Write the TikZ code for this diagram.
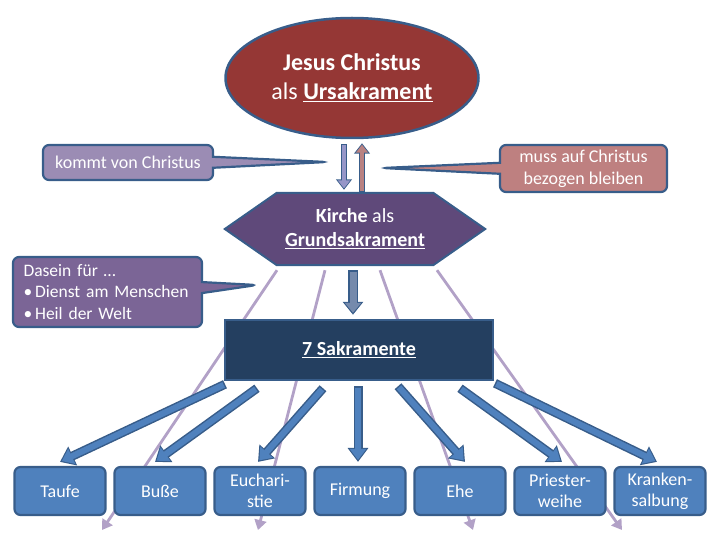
\documentclass[tikz,border=0pt]{standalone}
\usepackage{fontspec}
\setmainfont{Carlito}
\usepackage{tikz}
\usetikzlibrary{shapes.geometric, shapes.callouts, arrows.meta, positioning, calc, backgrounds}

\definecolor{christred}{RGB}{149,55,53}
\definecolor{outlineblue}{RGB}{56,93,138}
\definecolor{kirchepurple}{RGB}{95,73,122}
\definecolor{sakblue}{RGB}{36,63,96}
\definecolor{boxblue}{RGB}{79,129,189}
\definecolor{raylilac}{RGB}{178,161,199}
\definecolor{kommtlilac}{RGB}{155,140,180}
\definecolor{mussrose}{RGB}{190,128,128}
\definecolor{daseinpurple}{RGB}{123,101,150}
\definecolor{downlilac}{RGB}{150,150,200}
\definecolor{uprose}{RGB}{185,130,130}
\definecolor{midgray}{RGB}{117,138,172}

\begin{document}
\begin{tikzpicture}[x=1pt, y=-1pt,
    sakbox/.style={rounded corners=6pt, draw=outlineblue, line width=2.2pt, fill=boxblue, text=white, minimum width=91pt, minimum height=48pt, align=center, inner sep=2pt, font=\fontsize{18}{21}\selectfont},
    bubble/.style={rectangle callout, rounded corners=6pt, draw=outlineblue, line width=2.2pt, text=white, callout pointer width=11pt, font=\fontsize{18}{22}\selectfont},
    ray/.style={raylilac, line width=2.8pt, -{Triangle[length=10pt, width=12pt]}},
    bigarrow/.style={line width=6pt, draw=#1, shorten >=2pt, shorten <=1.5pt, -{Triangle[length=11pt, width=16pt]},
        preaction={draw=outlineblue, line width=9pt, shorten >=0pt, shorten <=0pt, -{Triangle[length=14pt, width=20pt]}}},
    midarrow/.style={line width=7pt, draw=#1, shorten >=2pt, shorten <=1.5pt, -{Triangle[length=10pt, width=16pt]},
        preaction={draw=outlineblue, line width=10pt, shorten >=0pt, shorten <=0pt, -{Triangle[length=13pt, width=20pt]}}},
    thinarrow/.style={line width=4pt, draw=#1, shorten >=1.5pt, shorten <=1pt, -{Triangle[length=8pt, width=12pt]},
        preaction={draw=outlineblue, line width=6.5pt, shorten >=0pt, shorten <=0pt, -{Triangle[length=10.5pt, width=15.5pt]}}}
]
\useasboundingbox (0,0) rectangle (720,540);

% Ursakrament and Grundsakrament
\node[ellipse, fill=christred, draw=outlineblue, line width=2.5pt, text=white, minimum width=253pt, minimum height=120pt, inner sep=0pt, align=center, font=\fontsize{24}{29}\selectfont] (jesus) at (352,78)
    {\textbf{Jesus Christus}\\als \textbf{\underline{Ursakrament}}};
\node[text=white, minimum width=260pt, minimum height=72pt, inner sep=0pt, align=center, font=\fontsize{20}{24}\selectfont] (kirche) at (355,229)
    {\textbf{Kirche} als\\\textbf{\underline{Grundsakrament}}};
\begin{pgfonlayer}{background}
\filldraw[fill=kirchepurple, draw=outlineblue, line width=2pt] (kirche.west) -- ($(kirche.north west)+(52,0)$) -- ($(kirche.north east)+(-52,0)$)
    -- (kirche.east) -- ($(kirche.south east)+(-52,0)$) -- ($(kirche.south west)+(52,0)$) -- cycle;
\end{pgfonlayer}

% rays behind the sacraments
\foreach \dx/\ex [count=\i] in {-78/102, -30/258, 25/473, 82/622} {
    \coordinate (strahl\i) at (\ex,530);
    \draw[ray] ($(kirche.south)+(\dx,5)$) -- (strahl\i);
}

% arrows between Christus and Kirche
\draw[thinarrow=downlilac] ($(jesus.south)+(-8,5)$) -- ($(jesus.south |- kirche.north)+(-8,-3)$);
\draw[thinarrow=uprose] ($(jesus.south |- kirche.north)+(10,-1)$) -- ($(jesus.south)+(10,4)$);

\node[fill=sakblue, draw=outlineblue, line width=2.5pt, text=white, minimum width=268pt, minimum height=60pt, inner sep=0pt, font=\fontsize{20}{24}\selectfont] (sak) at (359,350)
    {\textbf{\underline{7 Sakramente}}};
\draw[midarrow=midgray] ($(kirche.south)+(-2,5)$) -- ($(kirche.south |- sak.north)+(-2,-4)$);

% the seven sacraments
\foreach \name/\txt [count=\i from 0] in {taufe/Taufe, busse/Buße, euch/{Euchari-\\stie}, firm/Firmung, ehe/Ehe, priester/{Priester-\\weihe}, kranken/{Kranken-\\salbung}}
    \node[sakbox] (\name) at (60+100*\i,491) {\txt};

\foreach \name/\dx/\dy/\tx in {taufe/-134/3/0, busse/-102/7/-5, euch/-36/7/-2, firm/-1/5/-2, ehe/39/5/5, priester/101/7/2, kranken/136/2/-3}
    \draw[bigarrow=boxblue] ($(sak.south)+(\dx,\dy)$) -- ($(\name.north)+(\tx,-4)$);

% callouts
\coordinate (kommtTip) at (327,162);
\coordinate (mussTip) at (382,168);
\coordinate (daseinTip) at (257,285);
\node[bubble, fill=kommtlilac, minimum width=170pt, minimum height=35pt, callout absolute pointer=(kommtTip)] (kommt) at (128,162.5) {kommt von Christus};
\node[bubble, fill=mussrose, minimum width=167pt, minimum height=47pt, align=center, callout absolute pointer=(mussTip)] (muss) at (583.5,168.5) {muss auf Christus\\bezogen bleiben};
\node[bubble, fill=daseinpurple, minimum width=189pt, minimum height=70pt, text width=168pt, align=left, font=\fontsize{17.5}{21.5}\selectfont, callout absolute pointer=(daseinTip)] (dasein) at (107.5,292) {Dasein für …\\•\,Dienst am Menschen\\•\,Heil der Welt};

\end{tikzpicture}
\end{document}
